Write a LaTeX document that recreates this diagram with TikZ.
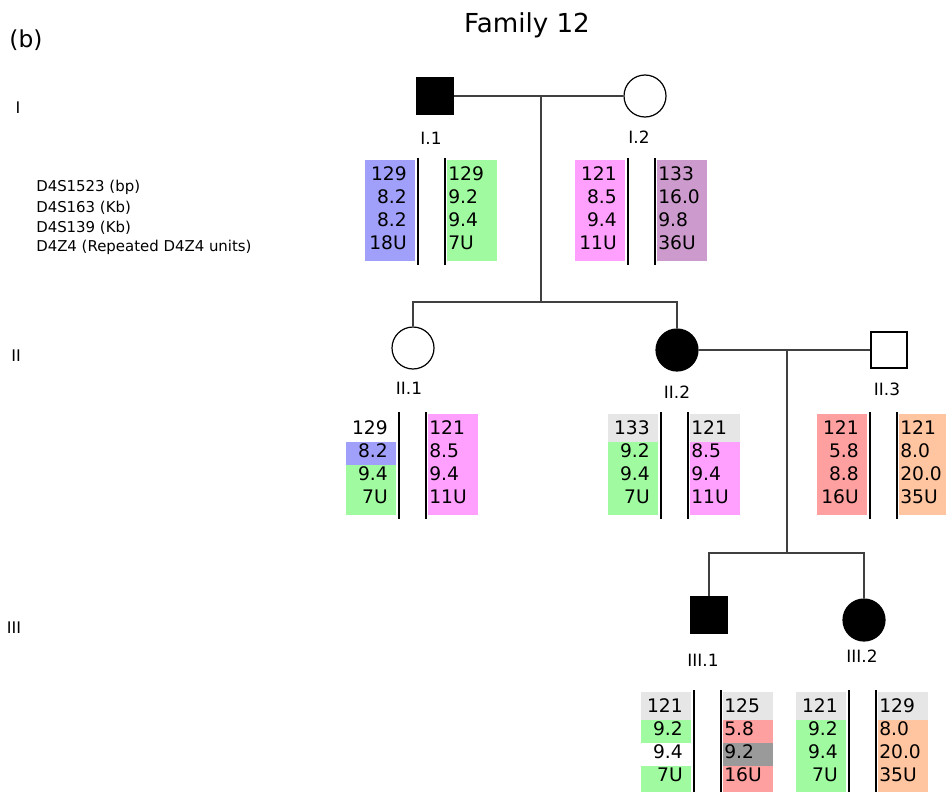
\documentclass[tikz,border=0pt]{standalone}
\usepackage{fontspec}
\setmainfont{DejaVu Sans}
\usepackage{tikz}

% one allele column: #1 name, #2 left x, #3 y of first row, #4 text anchor, #5 text x, #6 colour/allele pairs
\newcommand{\hapcol}[6]{%
  \foreach \shade/\allele [count=\i] in {#6} {
    \pgfmathsetmacro{\yrow}{#3+(\i-1)*23}
    \pgfmathsetmacro{\ytop}{\i==1 ? \yrow-16 : \yrow-11.5}
    \pgfmathsetmacro{\ybot}{\i==4 ? \yrow+15.5 : \yrow+11.5}
    \fill[\shade] (#2,\ytop) rectangle (#2+50,\ybot);
    \node[allele, anchor=#4] (#1-\i) at (#5,\yrow) {\allele};
  }}

% both haplotypes of one person, split by two bars
\newcommand{\haplo}[5]{%
  \hapcol{#1L}{#2}{#3}{east}{#2+42}{#4}
  \hapcol{#1R}{#2+82}{#3}{west}{#2+83}{#5}
  \draw[hapbar] (#2+53,#3-18) -- (#2+53,#3+89);
  \draw[hapbar] (#2+80,#3-18) -- (#2+80,#3+89);
}

\begin{document}
\begin{tikzpicture}[x=0.75pt,y=-0.75pt]
  \definecolor{hapblue}{HTML}{A0A0FA}
  \definecolor{hapgreen}{HTML}{A0FAA0}
  \definecolor{happink}{HTML}{FFA0FF}
  \definecolor{happurple}{HTML}{CC9ACC}
  \definecolor{hapgrey}{HTML}{E6E6E6}
  \definecolor{hapred}{HTML}{FFA0A0}
  \definecolor{happeach}{HTML}{FFC4A0}
  \definecolor{hapdark}{HTML}{9A9A9A}

  \tikzset{
    male/.style={draw, line width=0.9pt, rectangle, minimum size=27pt, inner sep=0pt},
    female/.style={draw, line width=0.9pt, circle, minimum size=31.5pt, inner sep=0pt},
    affected/.style={fill=black},
    kin/.style={line width=0.8pt, black!75},
    hapbar/.style={line width=1.8pt, black},
    allele/.style={inner sep=0pt, text height=0.73em, text depth=0pt, font=\fontsize{14}{16}\selectfont},
    idlabel/.style={font=\fontsize{12.7}{15}\selectfont},
    genlabel/.style={font=\fontsize{12}{14}\selectfont},
    marker/.style={anchor=west, inner sep=0pt, font=\fontsize{11.2}{13}\selectfont}
  }

  \useasboundingbox (0,0) rectangle (946,792);

  \node[font=\fontsize{19.6}{23}\selectfont] (title) at (527,25) {Family 12};
  \node[font=\fontsize{17.5}{21}\selectfont] (panel) at (26,40) {(b)};

  \node[genlabel] (genI) at (18,108) {I};
  \node[genlabel] (genII) at (16,356) {II};
  \node[genlabel] (genIII) at (14,628) {III};

  \node[marker] (mk1) at (36,187) {D4S1523 (bp)};
  \node[marker] (mk2) at (36,208) {D4S163 (Kb)};
  \node[marker] (mk3) at (36,228) {D4S139 (Kb)};
  \node[marker] (mk4) at (36,247) {D4Z4 (Repeated D4Z4 units)};

  % generation I
  \node[male, affected] (I1) at (435,96) {};
  \node[female] (I2) at (645,96) {};
  \node[idlabel] (I1lab) at (431,138) {I.1};
  \node[idlabel] (I2lab) at (639,137) {I.2};

  % generation II
  \node[female] (II1) at (413,348) {};
  \node[female, affected] (II2) at (677,350) {};
  \node[male] (II3) at (889,350) {};
  \node[idlabel] (II1lab) at (409,388) {II.1};
  \node[idlabel] (II2lab) at (677,392) {II.2};
  \node[idlabel] (II3lab) at (887,389) {II.3};

  % generation III
  \node[male, affected] (III1) at (709,615) {};
  \node[female, affected] (III2) at (864,620) {};
  \node[idlabel] (III1lab) at (703,660) {III.1};
  \node[idlabel] (III2lab) at (862,656) {III.2};

  % marriages and sibships
  \coordinate (m1) at (541,96);
  \coordinate (s1) at (541,302);
  \draw[kin] (I1) -- (I2);
  \draw[kin] (m1) -- (s1);
  \draw[kin] (II1.north) |- (s1) -| (II2.north);

  \coordinate (m2) at (787,350);
  \coordinate (s2) at (787,553);
  \draw[kin] (II2) -- (II3);
  \draw[kin] (m2) -- (s2);
  \draw[kin] (III1.north) |- (s2) -| (III2.north);

  % haplotypes
  \haplo{I1h}{365}{176}{hapblue/129,hapblue/8.2,hapblue/8.2,hapblue/18U}{hapgreen/129,hapgreen/9.2,hapgreen/9.4,hapgreen/7U}
  \haplo{I2h}{575}{176}{happink/121,happink/8.5,happink/9.4,happink/11U}{happurple/133,happurple/16.0,happurple/9.8,happurple/36U}
  \haplo{II1h}{346}{430}{white/129,hapblue/8.2,hapgreen/9.4,hapgreen/7U}{happink/121,happink/8.5,happink/9.4,happink/11U}
  \haplo{II2h}{608}{430}{hapgrey/133,hapgreen/9.2,hapgreen/9.4,hapgreen/7U}{hapgrey/121,happink/8.5,happink/9.4,happink/11U}
  \haplo{II3h}{817}{430}{hapred/121,hapred/5.8,hapred/8.8,hapred/16U}{happeach/121,happeach/8.0,happeach/20.0,happeach/35U}
  \haplo{III1h}{641}{708}{hapgrey/121,hapgreen/9.2,white/9.4,hapgreen/7U}{hapgrey/125,hapred/5.8,hapdark/9.2,hapred/16U}
  \haplo{III2h}{796}{708}{hapgrey/121,hapgreen/9.2,hapgreen/9.4,hapgreen/7U}{hapgrey/129,happeach/8.0,happeach/20.0,happeach/35U}
\end{tikzpicture}
\end{document}
